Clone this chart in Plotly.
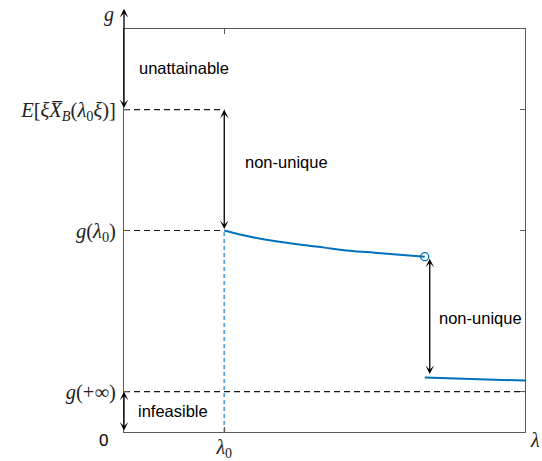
import plotly.graph_objects as go

# key levels (data units)
lam0 = 1.0
lam_jump = 3.0
lam_max = 4.0
g_lam0 = 2.0
g_inf = 0.4
e_level = 3.2
y_top = 4.2

# g(lambda) branch after lambda0, up to the jump
curve_x = [1.0, 1.25, 1.5, 1.75, 2.0, 2.25, 2.5, 2.75, 3.0]
curve_y = [2.00, 1.94, 1.895, 1.86, 1.83, 1.80, 1.78, 1.76, 1.74]

# branch after the jump
tail_x = [3.0, 3.5, 4.0]
tail_y = [0.54, 0.525, 0.51]

ytick_vals = [g_inf, g_lam0, e_level]
ytick_text = ["<i>g</i>(+∞)",
              "<i>g</i>(<i>λ</i><sub>0</sub>)",
              "<i>E</i>[<i>ξX̅</i><sub><i>B</i></sub>(<i>λ</i><sub>0</sub><i>ξ</i>)]"]
xtick_vals = [lam0]
xtick_text = ["<i>λ</i><sub>0</sub>"]

BLUE = "#0072BD"
AX = "#5a5a5a"
SANS = "Liberation Sans, Arial, sans-serif"
SERIF = "Liberation Serif, Times New Roman, serif"

fig = go.Figure()

# dashed guide lines
fig.add_trace(go.Scatter(x=[0, lam0], y=[e_level, e_level], mode="lines",
                         line=dict(color="#1a1a1a", width=1.2, dash="6px,4px")))
fig.add_trace(go.Scatter(x=[0, lam0], y=[g_lam0, g_lam0], mode="lines",
                         line=dict(color="#1a1a1a", width=1.2, dash="6px,4px")))
fig.add_trace(go.Scatter(x=[0, lam_max], y=[g_inf, g_inf], mode="lines",
                         line=dict(color="#1a1a1a", width=1.2, dash="6px,4px")))
fig.add_trace(go.Scatter(x=[lam0, lam0], y=[0, g_lam0], mode="lines",
                         line=dict(color="#5aa5dc", width=1.8, dash="4px,3px")))

# curves
fig.add_trace(go.Scatter(x=curve_x, y=curve_y, mode="lines",
                         line=dict(color=BLUE, width=2, shape="spline")))
fig.add_trace(go.Scatter(x=tail_x, y=tail_y, mode="lines",
                         line=dict(color=BLUE, width=2)))
fig.add_trace(go.Scatter(x=[curve_x[-1]], y=[curve_y[-1]], mode="markers",
                         marker=dict(symbol="circle-open", size=8,
                                     color=BLUE, line=dict(width=1.3))))


def double_arrow(x, y0, y1):
    fig.add_annotation(x=x, y=y1, ax=x, ay=y0, xref="x", yref="y",
                       axref="x", ayref="y", text="", showarrow=True,
                       arrowside="end+start", arrowhead=3, startarrowhead=3,
                       arrowsize=1.1, startarrowsize=1.1, arrowwidth=1.3,
                       arrowcolor="black", standoff=0, startstandoff=0)


double_arrow(0, e_level, y_top)
double_arrow(0, 0, g_inf)
double_arrow(lam0, g_lam0, e_level)
double_arrow(3.05, tail_y[0] + 0.02, curve_y[-1] - 0.02)

labels = [
    ("unattainable", 0.13, 3.61),
    ("non-unique", 1.19, 2.68),
    ("non-unique", 3.12, 1.13),
    ("infeasible", 0.12, 0.21),
]
for txt, x, y in labels:
    fig.add_annotation(x=x, y=y, xref="x", yref="y", text=txt, showarrow=False,
                       xanchor="left", yanchor="middle",
                       font=dict(family=SANS, size=16.5, color="black"))

# labels outside the axes box (paper coords)
outside = [
    ("0", -0.052, -0.02, SANS, 17, "black", "middle"),
    ("<i>g</i>", -0.037, 1.07, SERIF, 20, "#222", "top"),
    ("<i>λ</i>", 1.025, -0.02, SERIF, 20, "#222", "middle"),
]
for txt, x, y, fam, sz, col, ya in outside:
    fig.add_annotation(x=x, y=y, xref="paper", yref="paper", text=txt,
                       showarrow=False, xanchor="center", yanchor=ya,
                       font=dict(family=fam, size=sz, color=col))

fig.update_xaxes(range=[0, lam_max], showgrid=False, zeroline=False,
                 showline=True, linecolor=AX, linewidth=1, mirror="ticks",
                 ticks="inside", ticklen=5, tickcolor=AX, automargin=False,
                 ticklabelstandoff=-3,
                 tickvals=xtick_vals, ticktext=xtick_text,
                 tickfont=dict(family=SERIF, size=20, color="#222"))
fig.update_yaxes(range=[0, 4], showgrid=False, zeroline=False,
                 showline=True, linecolor=AX, linewidth=1, mirror="ticks",
                 ticks="inside", ticklen=5, tickcolor=AX, automargin=False,
                 ticklabelstandoff=3,
                 tickvals=ytick_vals, ticktext=ytick_text,
                 tickfont=dict(family=SERIF, size=20.5, color="#222"))

fig.update_layout(width=542, height=461, showlegend=False,
                  plot_bgcolor="white", paper_bgcolor="white",
                  margin=dict(l=124, r=17, t=29, b=29))

# drop the default page margin so the figure sits at the window corner
fig.write_html("out.html", config={"displayModeBar": False},
               post_script="document.body.style.margin='0';")
